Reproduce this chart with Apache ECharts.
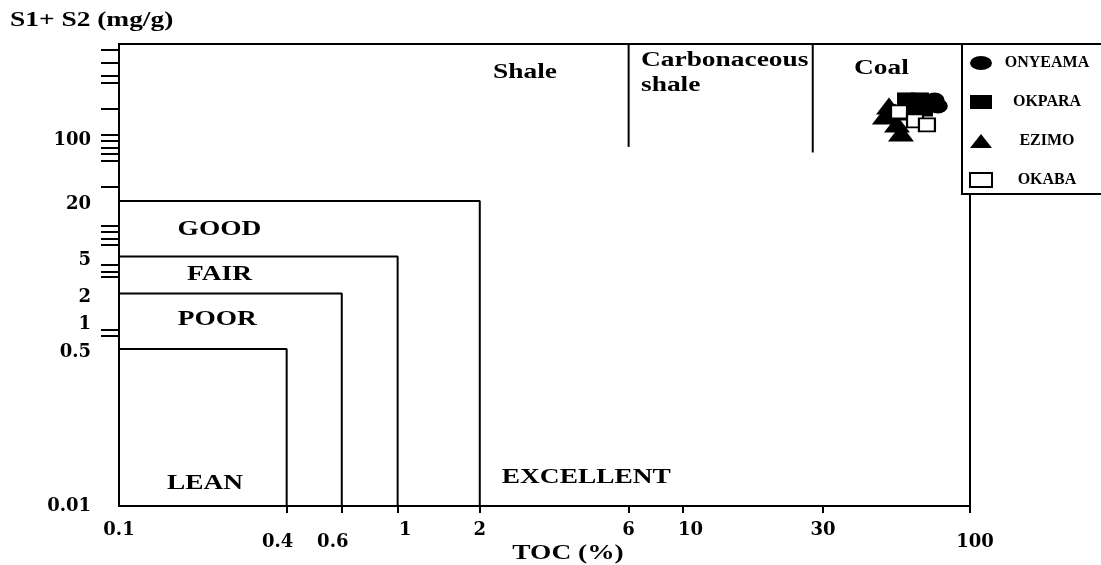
<!DOCTYPE html>
<html>
<head>
<meta charset="utf-8">
<script src="https://cdn.jsdelivr.net/npm/echarts@6/dist/echarts.min.js"></script>
<style>
html,body{margin:0;padding:0;background:#fff;}
#chart{width:1101px;height:565px;}
</style>
</head>
<body>
<div id="chart"></div>
<script>
// ---------------- data ----------------
const wells = ['ONYEAMA', 'OKPARA', 'EZIMO', 'OKABA'];
// [TOC (%), S1+S2 (mg/g)]
const onyeama = [[75, 248], [77, 213], [72, 230]];
const okpara  = [[59.5, 248], [66.6, 248], [68.8, 198], [62.5, 203]];
const ezimo   = [[51.8, 213], [50.1, 166], [54.4, 184], [57.1, 109], [55.3, 136]];
const okaba   = [[56.2, 184], [64, 147], [70.5, 133]];

const xTickLabels = ['0.1', '0.4', '0.6', '1', '2', '6', '10', '30', '100'];
const xTickValues = [0.1, 0.39, 0.61, 0.96, 1.87, 6.26, 9.73, 30.3, 100];
const yTickLabels = ['0.01', '0.5', '1', '2', '5', '20', '100'];
const yTickValues = [0.01, 0.5, 1, 2, 5, 20, 100];
const yTickMarks  = [861, 619, 455, 382, 199, 104, 89.6, 75.9, 64.4, 54.9, 28.8,
                     10.8, 9.26, 7.83, 6.64, 4.10, 3.47, 2.99, 0.81, 0.69];

// grade boxes: upper S1+S2 limit and TOC limit
const gradeNames = ['LEAN', 'POOR', 'FAIR', 'GOOD'];
const gradeTOC   = [0.39, 0.61, 0.96, 1.87];
const gradeS     = [0.5, 2, 5, 20];
// facies boundaries (shale / carbonaceous shale / coal)
const faciesTOC     = [6.26, 27.9];
const faciesBottomS = [77, 67];

const zoneLabels   = ['LEAN', 'POOR', 'FAIR', 'GOOD', 'EXCELLENT', 'Shale', 'Carbonaceous\nshale', 'Coal'];
const zoneLabelTOC = [0.201, 0.222, 0.226, 0.226, 4.44, 2.70, 6.92, 48.7];
const zoneLabelS   = [0.0175, 1.03, 3.16, 9.82, 0.0203, 485, 485, 543];

// ---------------- chart ----------------
const BLACK = '#000';
const SERIF = '"Liberation Serif", "Times New Roman", serif';
const TICKFONT = '"DejaVu Serif", serif';
const STRETCH = 1.37;
const ELLIPSE = 'path://M1,0A1,1 0 1,1 -1,0A1,1 0 1,1 1,0Z';

function nearestIndex(arr, v) {
  let best = 0, bd = Infinity;
  arr.forEach((a, i) => {
    const d = Math.abs(Math.log10(a) - Math.log10(v));
    if (d < bd) { bd = d; best = i; }
  });
  return best;
}
const xLabelStyle = ['n', 'lowLeft', 'lowLeft', 'right', 'n', 'n', 'right', 'n', 'lowRight'];
const yLabelStyle = ['n', 'd', 'd', 'd', 'd', 'd', 'd'];
const tickFontStyle = { fontFamily: TICKFONT, fontWeight: 'bold', fontSize: 18, color: BLACK };

const series = [];
gradeTOC.forEach((t, i) => {
  series.push({
    type: 'line', name: gradeNames[i] + ' limit', silent: true, z: 2,
    symbol: 'none', lineStyle: { color: BLACK, width: 2 },
    data: [[0.1, gradeS[i]], [t, gradeS[i]], [t, 0.01]]
  });
});
faciesTOC.forEach((t, i) => {
  series.push({
    type: 'line', name: 'facies ' + i, silent: true, z: 2,
    symbol: 'none', lineStyle: { color: BLACK, width: 2 },
    data: [[t, 1000], [t, faciesBottomS[i]]]
  });
});
series.push({
  type: 'custom', name: 'zones', silent: true, z: 3,
  data: zoneLabelTOC.map((x, i) => [x, zoneLabelS[i]]),
  renderItem: function (params, api) {
    const p = api.coord([api.value(0), api.value(1)]);
    const txt = zoneLabels[params.dataIndex];
    const multi = txt.indexOf('\n') >= 0;
    return {
      type: 'text', x: p[0], y: p[1], scaleX: STRETCH,
      style: {
        text: txt, x: 0, y: 0,
        align: multi ? 'left' : 'center', verticalAlign: 'middle',
        fill: BLACK, fontFamily: SERIF, fontWeight: 'bold', fontSize: 20, lineHeight: 25
      }
    };
  }
});
series.push(
  { type: 'scatter', name: 'ONYEAMA', data: onyeama, symbol: ELLIPSE, symbolSize: [20, 15],
    itemStyle: { color: BLACK, opacity: 1 }, z: 5 },
  { type: 'scatter', name: 'OKPARA', data: okpara, symbol: 'rect', symbolSize: [18, 15],
    itemStyle: { color: BLACK, opacity: 1 }, z: 5 },
  { type: 'scatter', name: 'EZIMO', data: ezimo, symbol: 'triangle', symbolSize: [26, 17],
    itemStyle: { color: BLACK, opacity: 1 }, z: 5 },
  { type: 'scatter', name: 'OKABA', data: okaba, symbol: 'rect', symbolSize: [16, 13],
    itemStyle: { color: '#fff', borderColor: BLACK, borderWidth: 2, opacity: 1 }, z: 5 }
);

const option = {
  animation: false,
  backgroundColor: '#fff',
  grid: { left: 119, right: 131, top: 44, bottom: 59, show: true,
          borderColor: BLACK, borderWidth: 2, backgroundColor: 'transparent' },
  xAxis: {
    type: 'log', logBase: 10, min: 0.1, max: 100,
    axisLine: { show: true, lineStyle: { color: BLACK, width: 2 } },
    axisTick: { show: true, customValues: xTickValues.slice(1), length: 7,
                lineStyle: { color: BLACK, width: 2 } },
    minorTick: { show: false },
    splitLine: { show: false },
    axisLabel: {
      customValues: xTickValues, showMinLabel: true, showMaxLabel: true,
      margin: 15, color: BLACK, fontFamily: TICKFONT, fontWeight: 'bold', fontSize: 18,
      formatter: function (v) {
        const i = nearestIndex(xTickValues, v);
        return '{' + xLabelStyle[i] + '|' + xTickLabels[i] + '}';
      },
      rich: {
        n: Object.assign({}, tickFontStyle),
        lowLeft: Object.assign({ padding: [12, 18, 0, 0] }, tickFontStyle),
        right: Object.assign({ padding: [0, 0, 0, 15] }, tickFontStyle),
        lowRight: Object.assign({ padding: [12, 0, 0, 10] }, tickFontStyle)
      }
    }
  },
  yAxis: {
    type: 'log', logBase: 10, min: 0.01, max: 1000,
    axisLine: { show: true, lineStyle: { color: BLACK, width: 2 } },
    axisTick: { show: true, customValues: yTickMarks, length: 18,
                lineStyle: { color: BLACK, width: 2 } },
    minorTick: { show: false },
    splitLine: { show: false },
    axisLabel: {
      customValues: yTickValues, showMinLabel: true, showMaxLabel: true,
      margin: 28, color: BLACK, fontFamily: TICKFONT, fontWeight: 'bold', fontSize: 18,
      formatter: function (v) {
        const i = nearestIndex(yTickValues, v);
        return '{' + yLabelStyle[i] + '|' + yTickLabels[i] + '}';
      },
      rich: {
        n: Object.assign({}, tickFontStyle),
        d: Object.assign({ padding: [7, 0, 0, 0] }, tickFontStyle)
      }
    }
  },
  legend: {
    data: [
      { name: 'ONYEAMA', icon: ELLIPSE },
      { name: 'OKPARA' },
      { name: 'EZIMO' },
      { name: 'OKABA', itemStyle: { color: '#fff', borderColor: BLACK, borderWidth: 2 } }
    ],
    orient: 'vertical', left: 962, top: 44,
    backgroundColor: '#fff', borderColor: BLACK, borderWidth: 2, borderRadius: 0,
    padding: [11, 16, 6, 7], itemGap: 23, itemWidth: 22, itemHeight: 14,
    symbolKeepAspect: false, selectedMode: false,
    formatter: function (n) { return '{c|' + n + '}'; },
    textStyle: {
      color: BLACK, fontFamily: SERIF, fontWeight: 'bold', fontSize: 16,
      rich: { c: { width: 100, align: 'center', color: BLACK, fontFamily: SERIF, fontWeight: 'bold', fontSize: 16 } }
    }
  },
  graphic: [
    { type: 'text', x: 10, y: 21, scaleX: STRETCH, silent: true,
      style: { text: 'S1+ S2 (mg/g)', align: 'left', verticalAlign: 'middle', fill: BLACK,
               fontFamily: SERIF, fontWeight: 'bold', fontSize: 20 } },
    { type: 'text', x: 568, y: 554, scaleX: STRETCH, silent: true,
      style: { text: 'TOC (%)', align: 'center', verticalAlign: 'middle', fill: BLACK,
               fontFamily: SERIF, fontWeight: 'bold', fontSize: 20 } }
  ],
  series: series
};

const chart = echarts.init(document.getElementById('chart'), null, { renderer: 'canvas' });
chart.setOption(option);
</script>
</body>
</html>
